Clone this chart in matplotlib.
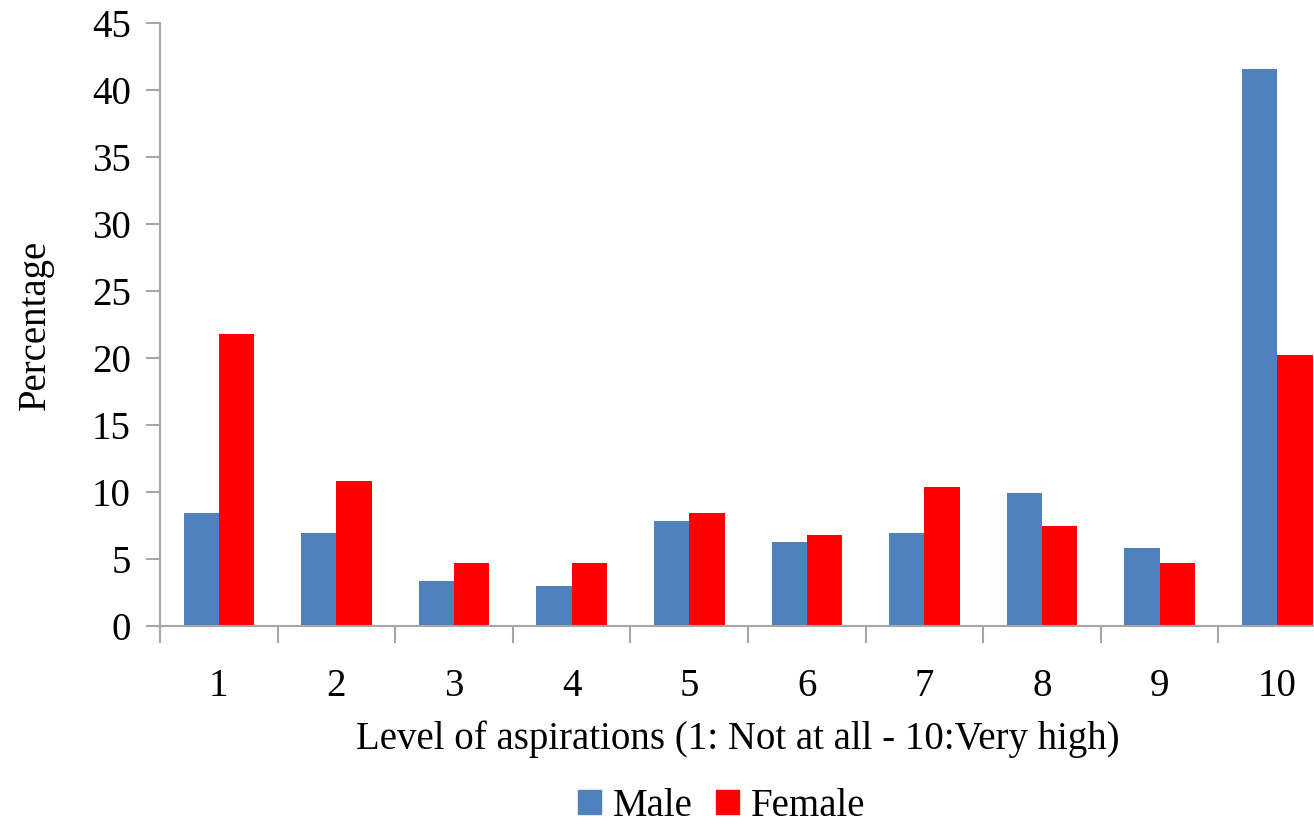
import numpy as np
import matplotlib.pyplot as plt
from matplotlib.patches import Patch

levels = ["1", "2", "3", "4", "5", "6", "7", "8", "9", "10"]
male = [8.4, 6.95, 3.35, 2.95, 7.85, 6.3, 6.95, 9.9, 5.8, 41.55]
female = [21.8, 10.85, 4.7, 4.7, 8.4, 6.8, 10.4, 7.45, 4.7, 20.2]

blue = "#4f81bd"
red = "#ff0000"
grey = "#a6a6a6"
fs = 28

plt.rcParams["font.family"] = ["Liberation Serif", "DejaVu Serif"]

fig = plt.figure(figsize=(13.14, 8.26), dpi=100)
ax = fig.add_axes([0.1218, 0.2421, 0.895, 0.7303])

x = np.arange(1, len(levels) + 1)
w = 0.3
ax.bar(x - w / 2, male, width=w, color=blue, label="Male")
ax.bar(x + w / 2, female, width=w, color=red, label="Female")

ax.set_xlim(0.5, len(levels) + 0.5)
ax.set_ylim(0, 45)
ax.set_yticks(np.arange(0, 46, 5))

# category separators as major ticks, labels on minor ticks
ax.set_xticks(np.arange(0.5, len(levels) + 1, 1.0))
ax.set_xticklabels([])
ax.set_xticks(x, minor=True)
ax.set_xticklabels(levels, minor=True)
ax.tick_params(axis="x", which="major", length=12, width=1.5, color=grey, direction="out")
ax.tick_params(axis="x", which="minor", length=0, pad=30, labelsize=fs)
ax.tick_params(axis="y", length=10, width=1.5, color=grey, direction="out", pad=11, labelsize=fs)

for s in ["top", "right"]:
    ax.spines[s].set_visible(False)
for s in ["left", "bottom"]:
    ax.spines[s].set_color(grey)
    ax.spines[s].set_linewidth(1.5)

ax.set_xlabel("Level of aspirations (1: Not at all - 10:Very high)", fontsize=fs)
ax.xaxis.set_label_coords(0.4915, -0.157)
ax.set_ylabel("Percentage", fontsize=fs)
ax.yaxis.set_label_coords(-0.09, 0.5)

handles = [Patch(color=blue, label="Male"), Patch(color=red, label="Female")]
fig.legend(handles=handles, loc="center", bbox_to_anchor=(0.549, 0.024), ncol=2,
           frameon=False, fontsize=fs, handlelength=0.6, handleheight=0.6,
           handletextpad=0.3, columnspacing=0.6)

fig.savefig("out.png", dpi=100)
